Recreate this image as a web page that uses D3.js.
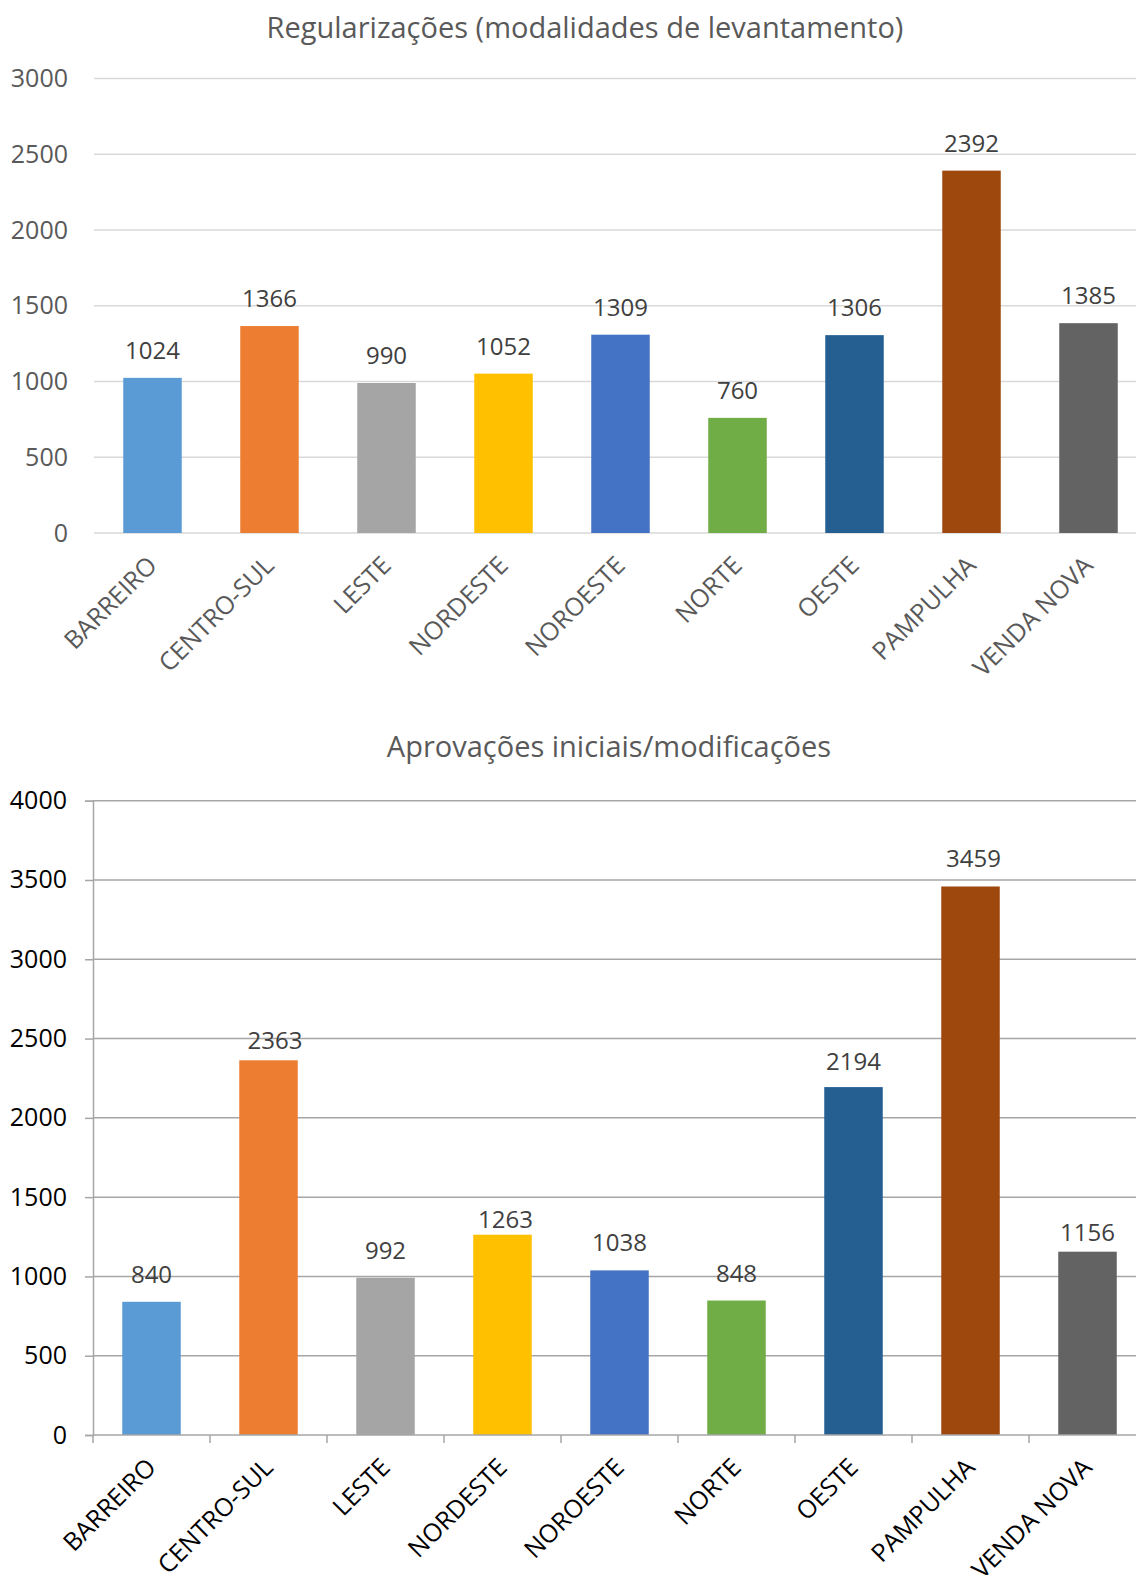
<!DOCTYPE html>
<html>
<head>
<meta charset="utf-8">
<script src="https://cdn.jsdelivr.net/npm/d3@7"></script>
<style>
  html, body { margin: 0; padding: 0; background: #fff; }
  svg { display: block; font-family: "Open Sans", "Noto Sans", sans-serif; }
</style>
</head>
<body>
<svg id="chart" width="1136" height="1575"></svg>
<script>
// Regionais
const categories = ["BARREIRO", "CENTRO-SUL", "LESTE", "NORDESTE", "NOROESTE", "NORTE", "OESTE", "PAMPULHA", "VENDA NOVA"];
const colors = ["#5B9BD5", "#ED7D31", "#A5A5A5", "#FFC000", "#4472C4", "#70AD47", "#255E91", "#9E480E", "#636363"];

// Regularizações (modalidades de levantamento)
const regularizacoes = [1024, 1366, 990, 1052, 1309, 760, 1306, 2392, 1385];
const regTicks = [0, 500, 1000, 1500, 2000, 2500, 3000];

// Aprovações iniciais/modificações
const aprovacoes = [840, 2363, 992, 1263, 1038, 848, 2194, 3459, 1156];
const aprTicks = [0, 500, 1000, 1500, 2000, 2500, 3000, 3500, 4000];

// hand-placed data label nudges (px) for the second chart
const aprLabelDx = [0, 6.5, 0, 3, 0, 0, 0, 3, 0];
const aprLabelDy = [0, 7.5, 0, 12, 0, 0, 2, 0, 8];

const svg = d3.select("#chart");

function drawPanel(cfg) {
  const g = svg.append("g");
  const x = d3.scaleBand()
    .domain(categories)
    .range([cfg.left, cfg.left + 9 * 117])
    .paddingInner(0.5)
    .paddingOuter(0.25);
  const y = d3.scaleLinear()
    .domain([0, cfg.ticks[cfg.ticks.length - 1]])
    .range([cfg.bottom, cfg.top]);

  // title
  g.append("text")
    .attr("x", cfg.titleX)
    .attr("y", cfg.titleY)
    .attr("text-anchor", "middle")
    .attr("font-size", 29)
    .attr("fill", "#595959")
    .text(cfg.title);

  // horizontal gridlines
  g.append("g")
    .selectAll("line")
    .data(cfg.ticks.filter(t => cfg.framed ? t > 0 : true))
    .join("line")
    .attr("x1", cfg.left)
    .attr("x2", 1136)
    .attr("y1", d => y(d))
    .attr("y2", d => y(d))
    .attr("stroke", cfg.gridColor)
    .attr("stroke-width", 1.5);

  // y axis
  const yAxis = d3.axisLeft(y)
    .tickValues(cfg.ticks)
    .tickFormat(d3.format("d"))
    .tickSize(cfg.framed ? 8 : 0)
    .tickPadding(cfg.framed ? 18 : 26);
  const ya = g.append("g")
    .attr("transform", `translate(${cfg.left},0)`)
    .call(yAxis);
  ya.select(".domain").attr("stroke", cfg.framed ? cfg.gridColor : "none").attr("stroke-width", 1.5);
  ya.selectAll(".tick line").attr("stroke", cfg.gridColor).attr("stroke-width", 1.5);
  ya.selectAll(".tick text")
    .attr("font-size", 25)
    .attr("font-family", "\"Open Sans\", sans-serif")
    .attr("fill", cfg.tickColor);

  // bars
  g.append("g")
    .selectAll("rect")
    .data(cfg.values)
    .join("rect")
    .attr("x", (d, i) => x(categories[i]))
    .attr("width", x.bandwidth())
    .attr("y", d => y(d))
    .attr("height", d => cfg.bottom - y(d))
    .attr("fill", (d, i) => colors[i]);

  // data labels
  g.append("g")
    .selectAll("text")
    .data(cfg.values)
    .join("text")
    .attr("x", (d, i) => x(categories[i]) + x.bandwidth() / 2 + (cfg.labelDx ? cfg.labelDx[i] : 0))
    .attr("y", (d, i) => y(d) - 19 + (cfg.labelDy ? cfg.labelDy[i] : 0))
    .attr("text-anchor", "middle")
    .attr("font-size", 24)
    .attr("fill", "#404040")
    .text(d => d);

  // x axis
  if (cfg.framed) {
    const bounds = d3.range(10).map(i => cfg.left + i * x.step());
    g.append("line")
      .attr("x1", cfg.left).attr("x2", 1136)
      .attr("y1", cfg.bottom).attr("y2", cfg.bottom)
      .attr("stroke", cfg.gridColor).attr("stroke-width", 1.5);
    g.append("g")
      .selectAll("line")
      .data(bounds)
      .join("line")
      .attr("x1", d => d).attr("x2", d => d)
      .attr("y1", cfg.bottom).attr("y2", cfg.bottom + 8)
      .attr("stroke", cfg.gridColor).attr("stroke-width", 1.5);
  }

  // category labels, rotated
  g.append("g")
    .selectAll("text")
    .data(categories)
    .join("text")
    .attr("transform", d => `translate(${x(d) + x.bandwidth() / 2 + 6},${cfg.bottom + 34}) rotate(-45)`)
    .attr("text-anchor", "end")
    .attr("font-size", 25)
    .attr("fill", cfg.tickColor)
    .text(d => d);
}

drawPanel({
  title: "Regularizações (modalidades de levantamento)",
  titleX: 585, titleY: 38,
  values: regularizacoes, ticks: regTicks,
  left: 94, top: 78.5, bottom: 533,
  gridColor: "#d9d9d9", tickColor: "#595959", framed: false
});

drawPanel({
  title: "Aprovações iniciais/modificações",
  titleX: 609, titleY: 757,
  values: aprovacoes, ticks: aprTicks,
  labelDx: aprLabelDx, labelDy: aprLabelDy,
  left: 93, top: 800.7, bottom: 1435,
  gridColor: "#a6a6a6", tickColor: "#000000", framed: true
});
</script>
</body>
</html>
